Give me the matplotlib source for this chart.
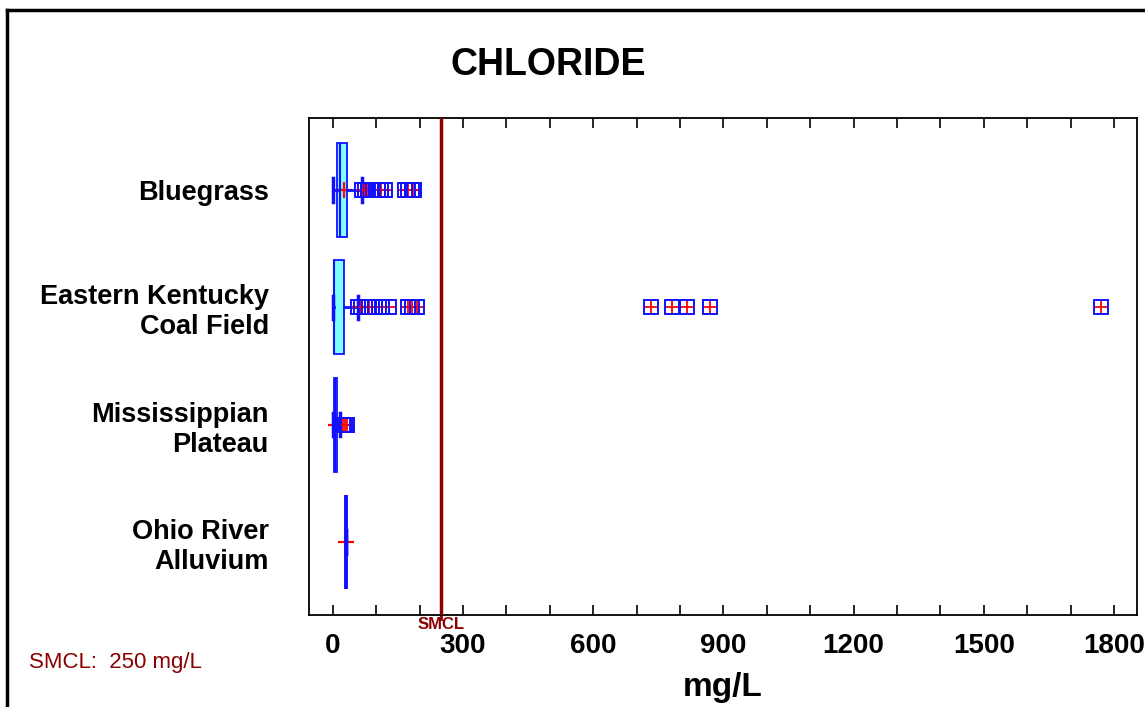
import numpy as np
import matplotlib.pyplot as plt
from matplotlib.lines import Line2D

plt.rcParams['font.family'] = ['Liberation Sans', 'DejaVu Sans']

regions = ['Bluegrass', 'Eastern Kentucky\nCoal Field', 'Mississippian\nPlateau',
           'Ohio River\nAlluvium']
q1 = [8.5, 3, 2, 30]
med = [16, 3, 4, 30]
q3 = [33, 26, 10, 30]
whislo = [0, 0, 0, 30]
whishi = [67, 58, 16, 30]
means = [25, 62, 7, 29.5]
fliers = [
    [68, 73, 80, 92, 104, 110, 120, 167, 173, 183, 187],
    [58, 64, 75, 83, 89, 98, 106, 113, 129, 173, 183, 194,
     733, 781, 817, 868, 1769],
    [24, 28, 32],
    [],
]
smcl = 250

blue = '#1010ff'
dred = '#8b0000'

fig = plt.figure(figsize=(11.45, 7.07), dpi=100)
ax = fig.add_axes([0.2699, 0.1301, 0.7231, 0.703])

stats = []
for i in range(len(regions)):
    stats.append(dict(label=regions[i], q1=q1[i], med=med[i], q3=q3[i],
                      whislo=whislo[i], whishi=whishi[i], mean=means[i],
                      fliers=fliers[i]))

pos = np.arange(1, len(regions) + 1)
bp = ax.bxp(stats, positions=pos, vert=False, widths=0.8, patch_artist=True,
            showmeans=True, capwidths=0.2,
            boxprops=dict(facecolor='#80ffff', edgecolor=blue, linewidth=1.3,
                          zorder=2),
            medianprops=dict(color=blue, linewidth=1.5, zorder=2.1),
            whiskerprops=dict(color=blue, linewidth=2, zorder=2.1),
            capprops=dict(color=blue, linewidth=2.5, zorder=2.1),
            flierprops=dict(marker='s', markersize=10.5, markerfacecolor='none',
                            markeredgecolor=blue, markeredgewidth=1.4, zorder=2.2),
            meanprops=dict(marker='+', markersize=11, markeredgecolor='red',
                           markeredgewidth=1.6, zorder=2.05))
# Ohio River box collapses to a single line, drawn heavier
bp['medians'][3].set_linewidth(2.8)

# red crosses inside the outlier squares, under the blue squares
for p, fl in zip(pos, fliers):
    if fl:
        ax.plot(fl, [p] * len(fl), '+', color='red', markersize=10.5,
                markeredgewidth=1.3, zorder=2.15)

ax.axvline(smcl, color=dred, linewidth=2.5, zorder=6)
ax.plot([smcl, smcl], [4.622, 4.66], color=dred, linewidth=2, clip_on=False)
ax.text(smcl, 4.7, 'SMCL', color=dred, fontsize=12, fontweight='bold',
        ha='center', va='center')

ax.set_xlim(-55, 1853)
ax.set_ylim(4.622, 0.386)
ax.set_xticks(np.arange(0, 1801, 300))
ax.set_xticks(np.arange(0, 1801, 100), minor=True)
ax.tick_params(axis='x', which='both', direction='in', top=True, length=7,
               width=1.2, pad=13, labelsize=20)
for lab in ax.get_xticklabels():
    lab.set_fontweight('bold')
ax.set_yticks(pos)
ax.set_yticklabels(regions, fontsize=19.5, fontweight='bold', linespacing=1.2)
ax.tick_params(axis='y', length=0, pad=29)
for s in ax.spines.values():
    s.set_linewidth(1.3)

ax.set_xlabel('mg/L', fontsize=24, fontweight='bold', labelpad=9)
fig.text(0.4786, 0.908, 'CHLORIDE', fontsize=27, fontweight='bold',
         ha='center', va='center')
fig.text(0.025, 0.063, 'SMCL:  250 mg/L', color=dred, fontsize=16,
         ha='left', va='center')

# outer frame (left and top edges)
fig.add_artist(Line2D([0.0063, 0.0063], [0, 0.986], color='black', linewidth=2.5))
fig.add_artist(Line2D([0.0063, 1], [0.986, 0.986], color='black', linewidth=2.5))

fig.savefig('out.png', dpi=100)
